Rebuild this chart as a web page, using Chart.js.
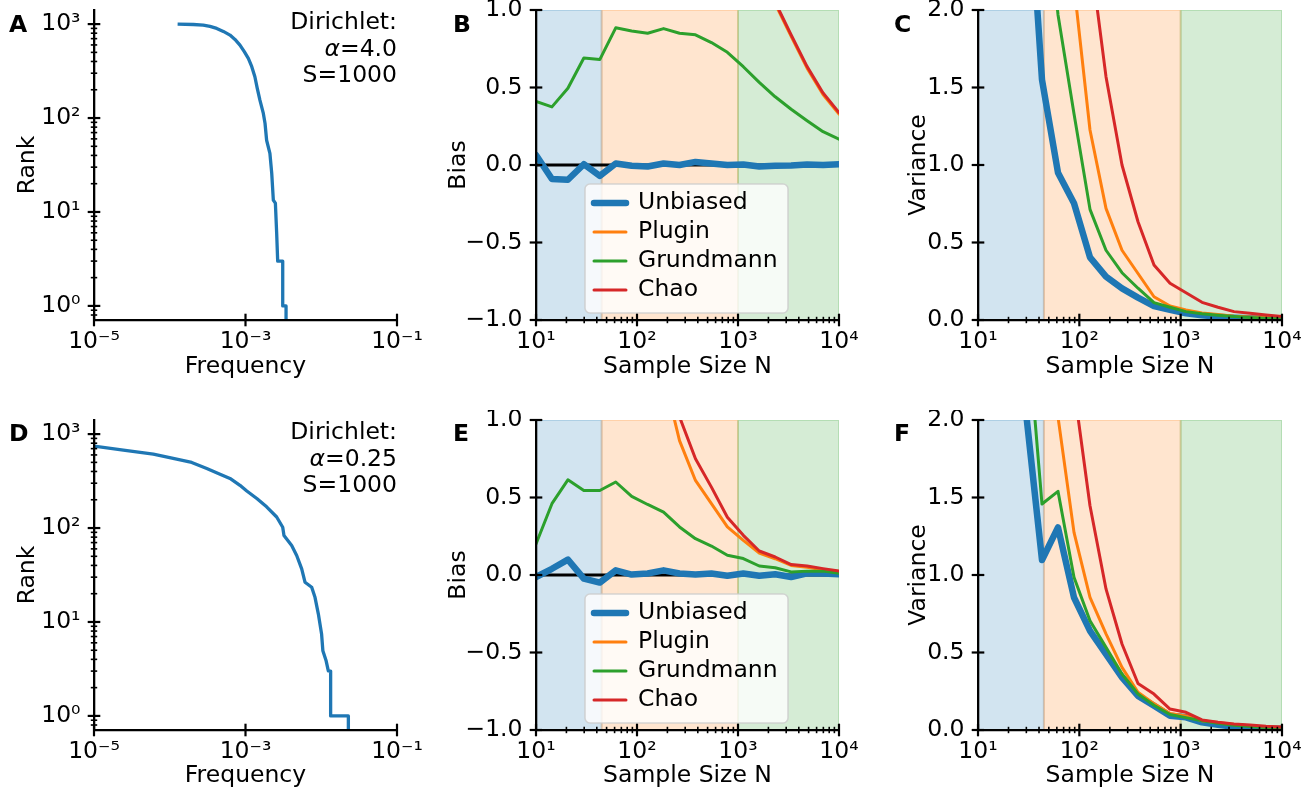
<!DOCTYPE html>
<html><head><meta charset="utf-8">
<script src="https://cdn.jsdelivr.net/npm/chart.js@4.4.1/dist/chart.umd.min.js"></script>
<style>
html,body{margin:0;padding:0;background:#fff;}
body{width:1313px;height:796px;position:relative;overflow:hidden;}
canvas{position:absolute;}
</style></head><body>
<canvas id="cA" width="440" height="386" style="left:0px;top:0px"></canvas>
<canvas id="cB" width="440" height="386" style="left:440px;top:0px"></canvas>
<canvas id="cC" width="433" height="386" style="left:880px;top:0px"></canvas>
<canvas id="cD" width="440" height="386" style="left:0px;top:410px"></canvas>
<canvas id="cE" width="440" height="386" style="left:440px;top:410px"></canvas>
<canvas id="cF" width="433" height="386" style="left:880px;top:410px"></canvas>
<script>
// ---------------- data ----------------
const sampleSizes = [10, 14.38, 20.69, 29.76, 42.81, 61.58, 88.59, 127.43, 183.30, 263.67, 379.27, 545.56, 784.76, 1128.84, 1623.78, 2335.72, 3359.82, 4832.93, 6951.93, 10000];

// rank / frequency curves (panels A and D)
const freqA = [1.27e-4, 2.05e-4, 2.77e-4, 3.4e-4, 4.17e-4, 5.1e-4, 6.24e-4, 7.26e-4, 8.45e-4, 9.64e-4, 1.09e-3, 1.21e-3, 1.33e-3, 1.43e-3, 1.55e-3, 1.72e-3, 1.81e-3, 1.9e-3, 2.1e-3, 2.22e-3, 2.33e-3, 2.48e-3, 2.58e-3, 2.66e-3, 3.1e-3, 3.1e-3, 3.43e-3, 3.43e-3];
const rankA = [1000, 990, 977, 945, 900, 836, 764, 687, 598, 508, 431, 352, 275, 207, 155, 112, 88, 58, 42, 25.8, 13.4, 12.4, 5.9, 3, 3, 1, 1, 0.5];
const freqD = [1e-5, 2.44e-5, 6.07e-5, 1.11e-4, 1.95e-4, 3.08e-4, 4.61e-4, 6.24e-4, 8.45e-4, 1.04e-3, 1.41e-3, 1.9e-3, 2.58e-3, 3.1e-3, 3.22e-3, 4.07e-3, 4.74e-3, 5.52e-3, 6.1e-3, 7.48e-3, 8.27e-3, 9.15e-3, 1.01e-2, 1.05e-2, 1.16e-2, 1.24e-2, 1.33e-2, 1.33e-2, 2.28e-2, 2.28e-2];
const rankD = [745, 675, 611, 550, 499, 431, 374, 337, 285, 248, 206, 168, 131, 102, 83.5, 65.3, 51, 36.8, 26.5, 23.4, 18.3, 12.2, 7.45, 4.94, 3.86, 3.02, 3, 1, 1, 0.5];

// bias, alpha = 4.0 (panel B)
const biasUnbiasedB = [0.065, -0.09, -0.095, 0.005, -0.07, 0.01, -0.005, -0.01, 0.01, 0.0, 0.02, 0.01, 0.0, 0.003, -0.01, -0.005, -0.003, 0.003, 0.0, 0.005];
const biasPluginB = [6.2, 6.1, 6.0, 5.8, 5.6, 5.3, 5.0, 4.6, 4.2, 3.7, 3.2, 2.7, 2.2, 1.75, 1.35, 1.04, 0.83, 0.625, 0.455, 0.328];
const biasGrundmannB = [0.41, 0.375, 0.495, 0.69, 0.68, 0.885, 0.865, 0.85, 0.88, 0.85, 0.84, 0.79, 0.727, 0.634, 0.533, 0.44, 0.36, 0.286, 0.215, 0.166];
const biasChaoB = [6.3, 6.2, 6.1, 5.9, 5.7, 5.4, 5.1, 4.7, 4.3, 3.8, 3.3, 2.8, 2.25, 1.78, 1.37, 1.05, 0.84, 0.635, 0.465, 0.338];

// variance, alpha = 4.0 (panel C)
const varUnbiasedC = [12, 8, 5, 3.1, 1.55, 0.95, 0.753, 0.404, 0.28, 0.204, 0.144, 0.09, 0.065, 0.043, 0.03, 0.021, 0.015, 0.011, 0.008, 0.006];
const varPluginC = [25, 15, 9, 5, 3.5, 2.8, 2.16, 1.226, 0.72, 0.45, 0.30, 0.15, 0.09, 0.065, 0.045, 0.035, 0.025, 0.02, 0.017, 0.015];
const varGrundmannC = [20, 12, 7, 4.5, 3.0, 1.97, 1.33, 0.714, 0.45, 0.305, 0.205, 0.112, 0.082, 0.054, 0.04, 0.03, 0.022, 0.016, 0.012, 0.01];
const varChaoC = [30, 20, 12, 7, 4.5, 3.5, 3.0, 2.37, 1.57, 1.0, 0.634, 0.355, 0.237, 0.176, 0.114, 0.082, 0.054, 0.043, 0.032, 0.022];

// bias, alpha = 0.25 (panel E)
const biasUnbiasedE = [-0.013, 0.04, 0.099, -0.023, -0.049, 0.03, 0.003, 0.01, 0.03, 0.01, 0.003, 0.01, -0.005, 0.01, -0.005, 0.005, -0.013, 0.01, 0.01, 0.005];
const biasPluginE = [4.0, 3.5, 3.1, 2.7, 2.4, 2.1, 1.8, 1.55, 1.29, 0.867, 0.61, 0.46, 0.31, 0.223, 0.142, 0.105, 0.062, 0.05, 0.033, 0.022];
const biasGrundmannE = [0.20, 0.46, 0.614, 0.545, 0.545, 0.6, 0.507, 0.455, 0.406, 0.31, 0.234, 0.187, 0.127, 0.106, 0.058, 0.047, 0.02, 0.025, 0.025, 0.012];
const biasChaoE = [4.2, 3.7, 3.3, 2.9, 2.6, 2.3, 2.0, 1.75, 1.45, 1.02, 0.75, 0.567, 0.373, 0.256, 0.155, 0.116, 0.067, 0.058, 0.041, 0.026];

// variance, alpha = 0.25 (panel F)
const varUnbiasedF = [10, 6, 3.5, 2.05, 1.097, 1.307, 0.855, 0.64, 0.49, 0.34, 0.22, 0.157, 0.092, 0.082, 0.049, 0.034, 0.021, 0.015, 0.01, 0.008];
const varPluginF = [20, 12, 7, 4, 2.8, 2.02, 1.275, 0.855, 0.62, 0.404, 0.243, 0.17, 0.107, 0.09, 0.06, 0.048, 0.035, 0.027, 0.02, 0.016];
const varGrundmannF = [14, 8, 4.5, 2.7, 1.458, 1.54, 0.985, 0.705, 0.533, 0.361, 0.232, 0.16, 0.1, 0.08, 0.06, 0.044, 0.03, 0.022, 0.016, 0.012];
const varChaoF = [30, 18, 10, 6, 3.8, 2.8, 2.21, 1.447, 0.91, 0.555, 0.30, 0.232, 0.135, 0.114, 0.065, 0.05, 0.039, 0.032, 0.024, 0.02];

const zeroLine = [0, 0];
const regionEdges = [10, 44.7, 1000, 10000];

// tick values / labels
const nTickValues = [10, 100, 1000, 10000];
const nTickLabels = ['10¹', '10²', '10³', '10⁴'];
const freqTickValues = [1e-5, 1e-3, 1e-1];
const freqTickLabels = ['10⁻⁵', '10⁻³', '10⁻¹'];
const rankTickValues = [1, 10, 100, 1000];
const rankTickLabels = ['10⁰', '10¹', '10²', '10³'];
const biasTickValues = [-1, -0.5, 0, 0.5, 1];
const biasTickLabels = ['−1.0', '−0.5', '0.0', '0.5', '1.0'];
const varTickValues = [0, 0.5, 1, 1.5, 2];
const varTickLabels = ['0.0', '0.5', '1.0', '1.5', '2.0'];

const seriesLabels = ['Unbiased', 'Plugin', 'Grundmann', 'Chao'];
const noteA = ['Dirichlet:', 'α=4.0', 'S=1000'];
const noteD = ['Dirichlet:', 'α=0.25', 'S=1000'];

// ---------------- styling ----------------
const FAM = "'DejaVu Sans', 'Liberation Sans', sans-serif";
const FS = 23.5;
Chart.defaults.font.family = FAM;
Chart.defaults.font.size = FS;
Chart.defaults.color = '#000';
const C_BLUE = '#1f77b4', C_ORANGE = '#ff7f0e', C_GREEN = '#2ca02c', C_RED = '#d62728';
const SPAN_COLORS = ['rgba(31,119,180,0.2)', 'rgba(255,127,14,0.2)', 'rgba(44,160,44,0.2)'];

function minorLog(min, max, majors) {
  const out = [];
  for (let e = Math.floor(Math.log10(min)); e <= Math.ceil(Math.log10(max)); e++) {
    for (let m = 2; m <= 9; m++) {
      const v = m * Math.pow(10, e);
      if (v > min && v < max) out.push(v);
    }
  }
  return out;
}

const decor = {
  id: 'decor',
  beforeDatasetsDraw(chart, args, o) {
    if (!o.spans) return;
    const {ctx, chartArea: a} = chart;
    const xs = chart.scales.x;
    ctx.save();
    ctx.beginPath(); ctx.rect(a.left, a.top, a.right - a.left, a.bottom - a.top); ctx.clip();
    for (let i = 0; i < regionEdges.length - 1; i++) {
      const x0 = xs.getPixelForValue(regionEdges[i]);
      const x1 = xs.getPixelForValue(regionEdges[i + 1]);
      ctx.fillStyle = SPAN_COLORS[i];
      ctx.fillRect(x0, a.top, x1 - x0, a.bottom - a.top);
      ctx.strokeStyle = SPAN_COLORS[i];
      ctx.lineWidth = 2;
      ctx.strokeRect(x0, a.top, x1 - x0, a.bottom - a.top);
    }
    ctx.restore();
  },
  afterDatasetsDraw(chart, args, o) {
    if (!o.legend) return;
    const {ctx, chartArea: a} = chart;
    const L = o.legend;
    const x0 = a.left + L.dx, y0 = a.top + L.dy;
    ctx.save();
    ctx.beginPath();
    if (ctx.roundRect) ctx.roundRect(x0, y0, L.w, L.h, 5); else ctx.rect(x0, y0, L.w, L.h);
    ctx.fillStyle = 'rgba(255,255,255,0.8)';
    ctx.fill();
    ctx.strokeStyle = 'rgba(204,204,204,0.8)';
    ctx.lineWidth = 1.6;
    ctx.stroke();
    const dsList = chart.data.datasets.filter(d => seriesLabels.includes(d.label))
      .sort((p, q) => seriesLabels.indexOf(p.label) - seriesLabels.indexOf(q.label));
    dsList.forEach((d, i) => {
      const cy = y0 + 19 + i * 29;
      ctx.beginPath();
      ctx.moveTo(x0 + 9, cy); ctx.lineTo(x0 + 41, cy);
      ctx.strokeStyle = d.borderColor; ctx.lineWidth = d.borderWidth; ctx.lineCap = 'round';
      ctx.stroke();
      ctx.fillStyle = '#000';
      ctx.font = FS + 'px ' + FAM;
      ctx.textBaseline = 'middle'; ctx.textAlign = 'left';
      ctx.fillText(d.label, x0 + 53, cy);
    });
    ctx.restore();
  },
  afterDraw(chart, args, o) {
    const {ctx, chartArea: a} = chart;
    const xs = chart.scales.x, ys = chart.scales.y;
    ctx.save();
    ctx.strokeStyle = '#000';
    ctx.lineCap = 'butt';
    const drawX = (vals, half, w) => vals.forEach(v => {
      const px = xs.getPixelForValue(v);
      ctx.beginPath(); ctx.lineWidth = w; ctx.moveTo(px, a.bottom - half); ctx.lineTo(px, a.bottom + half); ctx.stroke();
    });
    const drawY = (vals, half, w) => vals.forEach(v => {
      const py = ys.getPixelForValue(v);
      ctx.beginPath(); ctx.lineWidth = w; ctx.moveTo(a.left - half, py); ctx.lineTo(a.left + half, py); ctx.stroke();
    });
    drawX(o.xMajor || [], 6.3, 2.2);
    drawX(o.xMinor || [], 3.2, 1.6);
    drawY(o.yMajor || [], 6.3, 2.2);
    drawY(o.yMinor || [], 3.2, 1.6);
    // panel letter
    ctx.fillStyle = '#000';
    ctx.font = 'bold ' + FS + 'px ' + FAM;
    ctx.textAlign = 'left'; ctx.textBaseline = 'alphabetic';
    ctx.fillText(o.letter, o.letterX, o.letterY);
    // annotation
    if (o.note) {
      const r = a.right;
      ctx.textAlign = 'right';
      ctx.font = FS + 'px ' + FAM;
      ctx.fillText(o.note[0], r, a.top + 19.3);
      const rest = o.note[1].slice(1);
      ctx.fillText(rest, r, a.top + 45.7);
      const wRest = ctx.measureText(rest).width;
      ctx.font = 'italic ' + FS + 'px ' + FAM;
      ctx.fillText(o.note[1].slice(0, 1), r - wRest, a.top + 45.7);
      ctx.font = FS + 'px ' + FAM;
      ctx.fillText(o.note[2], r, a.top + 72.3);
    }
    ctx.restore();
  }
};

function axis(pos, type, min, max, values, labels, title, titlePad, size) {
  const isX = pos === 'bottom';
  return {
    type, min, max, bounds: 'data', position: pos,
    grid: {display: false, drawTicks: false},
    border: {display: true, color: '#000', width: 2.3, z: 1},
    ticks: {
      autoSkip: false, maxRotation: 0, minRotation: 0,
      padding: isX ? 7.5 : 13.5, color: '#000', font: {size: FS, family: FAM},
      callback: (v) => {
        const i = values.findIndex(t => t === v || Math.abs(t - v) <= 1e-6 * Math.abs(t));
        return i >= 0 ? labels[i] : '';
      }
    },
    afterBuildTicks: s => { s.ticks = values.map(v => ({value: v})); },
    afterFit: s => {
      if (isX) { s.height = size; s.paddingLeft = 0; s.paddingRight = 0; }
      else { s.width = size; s.paddingTop = 0; s.paddingBottom = 0; }
    },
    title: {display: true, text: title, color: '#000', font: {size: FS, family: FAM},
      padding: isX ? {top: 0, bottom: titlePad} : {top: titlePad, bottom: 0}}
  };
}

function series(label, ys, color, width, order) {
  return {
    label, data: sampleSizes.map((n, i) => ({x: n, y: ys[i]})),
    borderColor: color, backgroundColor: color, borderWidth: width,
    pointRadius: 0, tension: 0, fill: false, clip: 0, order,
    borderJoinStyle: 'round', borderCapStyle: 'round'
  };
}

function make(id, cfg) {
  new Chart(document.getElementById(id), {
    type: 'line',
    data: {datasets: cfg.datasets},
    options: {
      responsive: false, animation: false, devicePixelRatio: 1, events: [],
      layout: {padding: {top: 10, right: cfg.padRight, left: 0, bottom: 0}},
      plugins: {legend: {display: false}, tooltip: {enabled: false}, decor: cfg.decor},
      scales: {x: cfg.x, y: cfg.y}
    },
    plugins: [decor]
  });
}

function rankPanel(id, freq, rank, letter, note, xTitlePad, letterY) {
  make(id, {
    padRight: 43,
    datasets: [{
      label: 'rank', data: freq.map((f, i) => ({x: f, y: rank[i]})),
      borderColor: C_BLUE, borderWidth: 3.3, pointRadius: 0, tension: 0, fill: false, clip: 0,
      borderJoinStyle: 'round'
    }],
    x: axis('bottom', 'logarithmic', 1e-5, 1e-1, freqTickValues, freqTickLabels, 'Frequency', xTitlePad, 66),
    y: axis('left', 'logarithmic', 0.708, 1412.5, rankTickValues, rankTickLabels, 'Rank', 13.9, 94),
    decor: {
      xMajor: freqTickValues, xMinor: [],
      yMajor: rankTickValues, yMinor: minorLog(0.708, 1412.5),
      letter, letterX: 9, letterY, note
    }
  });
}

function biasPanel(id, u, p, g, c, letter, xTitlePad, letterY) {
  make(id, {
    padRight: 41,
    datasets: [
      series('Chao', c, C_RED, 3, 1),
      series('Grundmann', g, C_GREEN, 3, 2),
      series('Plugin', p, C_ORANGE, 3, 3),
      series('Unbiased', u, C_BLUE, 6.5, 4),
      {label: 'zero', data: [{x: sampleSizes[0], y: zeroLine[0]}, {x: sampleSizes[sampleSizes.length - 1], y: zeroLine[1]}],
        borderColor: '#000', borderWidth: 2.8, pointRadius: 0, clip: 0, order: 5}
    ],
    x: axis('bottom', 'logarithmic', 10, 10000, nTickValues, nTickLabels, 'Sample Size N', xTitlePad, 66),
    y: axis('left', 'linear', -1, 1, biasTickValues, biasTickLabels, 'Bias', 5.1, 96),
    decor: {
      spans: true,
      xMajor: nTickValues, xMinor: minorLog(10, 10000),
      yMajor: biasTickValues, yMinor: [],
      letter, letterX: 13, letterY,
      legend: {dx: 49, dy: 174, w: 203, h: 129}
    }
  });
}

function varPanel(id, u, p, g, c, letter, xTitlePad, letterY) {
  make(id, {
    padRight: 31,
    datasets: [
      series('Chao', c, C_RED, 3, 1),
      series('Grundmann', g, C_GREEN, 3, 2),
      series('Plugin', p, C_ORANGE, 3, 3),
      series('Unbiased', u, C_BLUE, 6.5, 4)
    ],
    x: axis('bottom', 'logarithmic', 10, 10000, nTickValues, nTickLabels, 'Sample Size N', xTitlePad, 66),
    y: axis('left', 'linear', 0, 2, varTickValues, varTickLabels, 'Variance', 24.7, 98),
    decor: {
      spans: true,
      xMajor: nTickValues, xMinor: minorLog(10, 10000),
      yMajor: varTickValues, yMinor: [],
      letter, letterX: 14, letterY
    }
  });
}

rankPanel('cA', freqA, rankA, 'A', noteA, 5.0, 32.3);
biasPanel('cB', biasUnbiasedB, biasPluginB, biasGrundmannB, biasChaoB, 'B', 5.0, 32.3);
varPanel('cC', varUnbiasedC, varPluginC, varGrundmannC, varChaoC, 'C', 5.0, 32.3);
rankPanel('cD', freqD, rankD, 'D', noteD, 6.5, 31);
biasPanel('cE', biasUnbiasedE, biasPluginE, biasGrundmannE, biasChaoE, 'E', 6.5, 31);
varPanel('cF', varUnbiasedF, varPluginF, varGrundmannF, varChaoF, 'F', 6.5, 31);
</script>
</body></html>
